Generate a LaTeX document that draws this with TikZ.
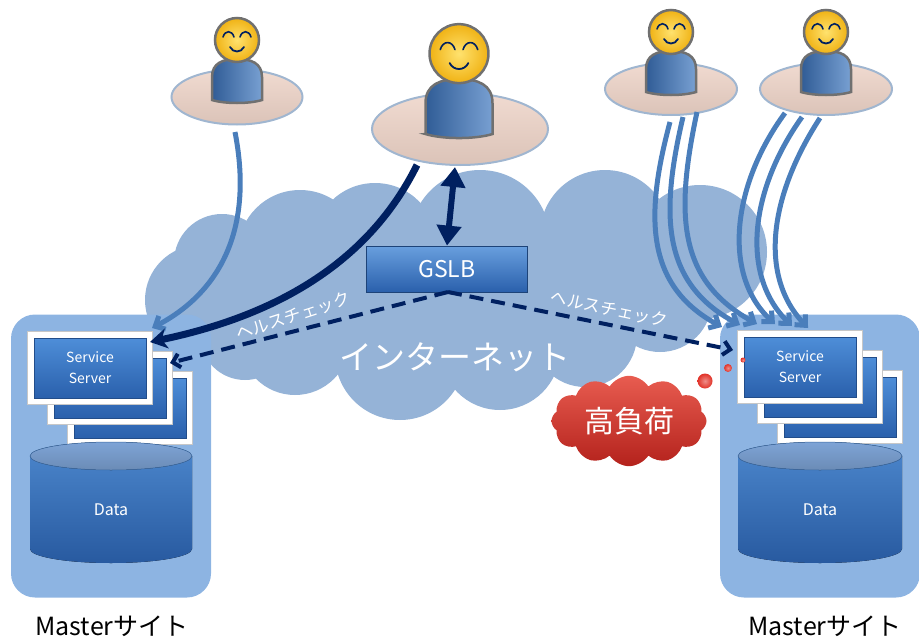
\documentclass[tikz,border=0pt]{standalone}
\usepackage{fontspec}
\setmainfont{Noto Sans CJK JP}
\usetikzlibrary{arrows.meta,shapes.geometric,shapes.symbols,calc}

\definecolor{cloudblue}{RGB}{149,179,215}
\definecolor{sitebg}{RGB}{141,180,226}
\definecolor{navy}{RGB}{0,32,96}
\definecolor{flowblue}{RGB}{74,126,187}
\definecolor{scrtop}{RGB}{78,142,216}
\definecolor{scrbot}{RGB}{42,96,172}
\definecolor{dbtop}{RGB}{126,164,214}
\definecolor{dbbodyA}{RGB}{72,130,200}
\definecolor{dbbodyB}{RGB}{40,90,160}
\definecolor{diskfill}{RGB}{238,212,200}
\definecolor{diskline}{RGB}{160,182,208}
\definecolor{bodydark}{RGB}{48,92,150}
\definecolor{bodylight}{RGB}{120,160,210}
\definecolor{headin}{RGB}{255,226,110}
\definecolor{headout}{RGB}{240,178,20}
\definecolor{iconline}{RGB}{112,112,112}
\definecolor{loadA}{RGB}{232,92,80}
\definecolor{loadB}{RGB}{180,34,28}
\definecolor{bubblered}{RGB}{225,50,40}

\tikzset{
  site/.style={fill=sitebg, rounded corners=24pt, minimum width=200pt, minimum height=283pt, inner sep=0pt},
  frame/.style={fill=white, draw=black!22, line width=0.8pt, minimum width=125pt, minimum height=73pt, inner sep=0pt},
  screen/.style={top color=scrtop, bottom color=scrbot, draw=scrbot!80!black, line width=0.4pt,
    minimum width=112pt, minimum height=60pt, inner sep=0pt, text=white, align=center,
    font=\fontsize{14}{21}\selectfont},
  dbtext/.style={text=white, font=\fontsize{16}{18}\selectfont},
  sitelabel/.style={font=\fontsize{25}{28}\selectfont, text=black},
  userdisk/.style={ellipse, draw=diskline, line width=2pt, top color=diskfill!85!white, bottom color=diskfill!92!black, inner sep=0pt},
  gslbbox/.style={top color=scrtop!85!white, bottom color=scrbot, draw=scrbot!70!black, line width=0.8pt,
    minimum width=161pt, minimum height=46pt, inner sep=0pt, text=white, font=\fontsize{23}{26}\selectfont},
  hclabel/.style={text=white, font=\fontsize{17}{19}\selectfont, inner sep=0pt},
  netlabel/.style={text=white, font=\fontsize{33}{36}\selectfont, inner sep=0pt},
  flow/.style={draw=flowblue, line width=5pt, -{Straight Barb[length=8pt,width=15pt]}},
  navyflow/.style={draw=navy, line width=7pt, -{Stealth[length=17pt,width=20pt,inset=5pt]}},
  healthflow/.style={draw=navy, line width=4pt, dash pattern=on 14pt off 8pt, -{Straight Barb[length=7pt,width=14pt]}},
  loadcloud/.style={cloud, cloud puffs=12, cloud puff arc=115, aspect=1.7, minimum width=155pt, minimum height=88pt,
    top color=loadA, bottom color=loadB, inner sep=0pt, text=white, font=\fontsize{30}{32}\selectfont},
  bubble/.style={circle, inner sep=0pt, inner color=bubblered!55!white, outer color=bubblered},
  person/.pic={
    \draw[iconline, line width=2.5pt, left color=bodydark, right color=bodylight]
      (-25,3) -- (-25,-20) .. controls (-25,-34) and (-14,-38) .. (0,-38)
      .. controls (14,-38) and (25,-34) .. (25,-20) -- (25,3)
      .. controls (12,7) and (-12,7) .. cycle;
    \draw[iconline, line width=2.5pt, inner color=headin, outer color=headout] (0,-57) circle[radius=22];
    \draw[navy, line width=1.6pt, line cap=round] (-14,-60) .. controls (-12,-67) and (-5,-67) .. (-3,-60);
    \draw[navy, line width=1.6pt, line cap=round] (3,-60) .. controls (5,-67) and (12,-67) .. (14,-60);
    \draw[navy, line width=1.8pt, line cap=round] (-7,-50) .. controls (-4,-44) and (4,-44) .. (7,-50);
  }
}

\begin{document}
\begin{tikzpicture}[x=1pt, y=-1pt]
\useasboundingbox (0,0) rectangle (919,640);

% ---- internet cloud ----
\begin{scope}[fill=cloudblue]
  \fill (200,300) circle[radius=55];
  \fill (222,262) circle[radius=48];
  \fill (300,252) circle[radius=62];
  \fill (245,335) circle[radius=45];
  \fill (375,245) circle[radius=62];
  \fill (480,240) circle[radius=70];
  \fill (605,235) circle[radius=65];
  \fill (700,252) circle[radius=67];
  \fill (660,300) circle[radius=52];
  \fill (295,340) circle[radius=55];
  \fill (400,355) circle[radius=65];
  \fill (500,350) circle[radius=60];
  \fill (585,335) circle[radius=52];
  \fill (240,250) rectangle (690,340);
\end{scope}

% ---- sites ----
\node[site] (siteL) at (111,456) {};
\node[site] (siteR) at (820,456) {};

% left server stack
\node[frame] (frmL3) at (130,408) {};
\node[screen] (srvL3) at (130,408) {};
\node[frame] (frmL2) at (110,388) {};
\node[screen] (srvL2) at (110,388) {};
\node[frame] (frmL1) at (90,368) {};
\node[screen] (srvL1) at (90,368) {Service\\Server};

% right server stack
\node[frame] (frmR3) at (840,407) {};
\node[screen] (srvR3) at (840,407) {};
\node[frame] (frmR2) at (820,387) {};
\node[screen] (srvR2) at (820,387) {};
\node[frame] (frmR1) at (800,367) {};
\node[screen] (srvR1) at (800,367) {Service\\Server};

% databases
\fill[top color=dbbodyA, bottom color=dbbodyB]
  (30,456) -- (30,549) arc[start angle=180, end angle=0, x radius=81, y radius=14] -- (192,456) -- cycle;
\fill[top color=dbtop, bottom color=dbtop!85!black, draw=dbbodyA!80!black, line width=0.5pt]
  (111,456) ellipse[x radius=81, y radius=14];
\node[dbtext] (dbL) at (111,510) {Data};

\fill[top color=dbbodyA, bottom color=dbbodyB]
  (738,456) -- (738,549) arc[start angle=180, end angle=0, x radius=82, y radius=14] -- (902,456) -- cycle;
\fill[top color=dbtop, bottom color=dbtop!85!black, draw=dbbodyA!80!black, line width=0.5pt]
  (820,456) ellipse[x radius=82, y radius=14];
\node[dbtext] (dbR) at (820,510) {Data};

\node[sitelabel] (lblL) at (112,626) {Masterサイト};
\node[sitelabel] (lblR) at (825,626) {Masterサイト};

% ---- overloaded marker ----
\node[loadcloud] (load) at (629,421) {高負荷};
\node[bubble, minimum size=15pt] (bub1) at (705,381) {};
\node[bubble, minimum size=8pt] (bub2) at (728,368) {};
\node[bubble, minimum size=5pt] (bub3) at (743,360) {};

% ---- users ----
\node[userdisk, minimum width=131pt, minimum height=55pt] (u1) at (237,97) {};
\pic at (237,97) {person};
\node[userdisk, minimum width=176pt, minimum height=72pt] (u2) at (460,129) {};
\pic[scale=1.34] at (459,130) {person};
\node[userdisk, minimum width=132pt, minimum height=52pt] (u3) at (671,89) {};
\pic at (671,89) {person};
\node[userdisk, minimum width=132pt, minimum height=52pt] (u4) at (826,89) {};
\pic at (826,89) {person};

% ---- GSLB ----
\node[gslbbox] (gslb) at (447,269) {GSLB};

% connector end points
\coordinate (u1out) at (235,132);
\coordinate (u2out) at (417,165);
\coordinate (u2dns) at (455,167);
\coordinate (tipL1) at (152,328);
\coordinate (tipL2) at (150,342);
\coordinate (tipLh) at (170,363);
\coordinate (tipRh) at (733,350);
\coordinate (gslbfoot) at (448,292);

% requests from users
\draw[flow] (u1out) .. controls (255,235) and (215,295) .. (tipL1);
\draw[navyflow] (u2out) .. controls (370,260) and (280,315) .. (tipL2);

\coordinate (u3a) at (670,122); \coordinate (u3b) at (683,117); \coordinate (u3c) at (697,112);
\coordinate (u4a) at (785,113); \coordinate (u4b) at (802,117); \coordinate (u4c) at (820,118);
\coordinate (tR1) at (722,327); \coordinate (tR2) at (740,325); \coordinate (tR3) at (757,324);
\coordinate (tR4) at (775,324); \coordinate (tR5) at (792,326); \coordinate (tR6) at (808,328);
\draw[flow] (u3a) .. controls (645,215) and (645,285) .. (tR1);
\draw[flow] (u3b) .. controls (660,215) and (662,283) .. (tR2);
\draw[flow] (u3c) .. controls (675,215) and (678,280) .. (tR3);
\draw[flow] (u4a) .. controls (732,185) and (722,275) .. (tR4);
\draw[flow] (u4b) .. controls (750,190) and (740,275) .. (tR5);
\draw[flow] (u4c) .. controls (770,195) and (758,275) .. (tR6);

% DNS query to GSLB
\draw[navy, line width=6pt, {Triangle[length=20pt,width=24pt]}-{Triangle[length=20pt,width=24pt]}]
  (u2dns) -- (gslb.north);

% health checks
\draw[healthflow] (gslbfoot) -- (tipLh);
\draw[healthflow] (gslbfoot) -- (tipRh);
\node[hclabel, rotate=18] (hcL) at (293,316) {ヘルスチェック};
\node[hclabel, rotate=-12] (hcR) at (609,309) {ヘルスチェック};

\node[netlabel] (net) at (455,357) {インターネット};
\end{tikzpicture}
\end{document}
